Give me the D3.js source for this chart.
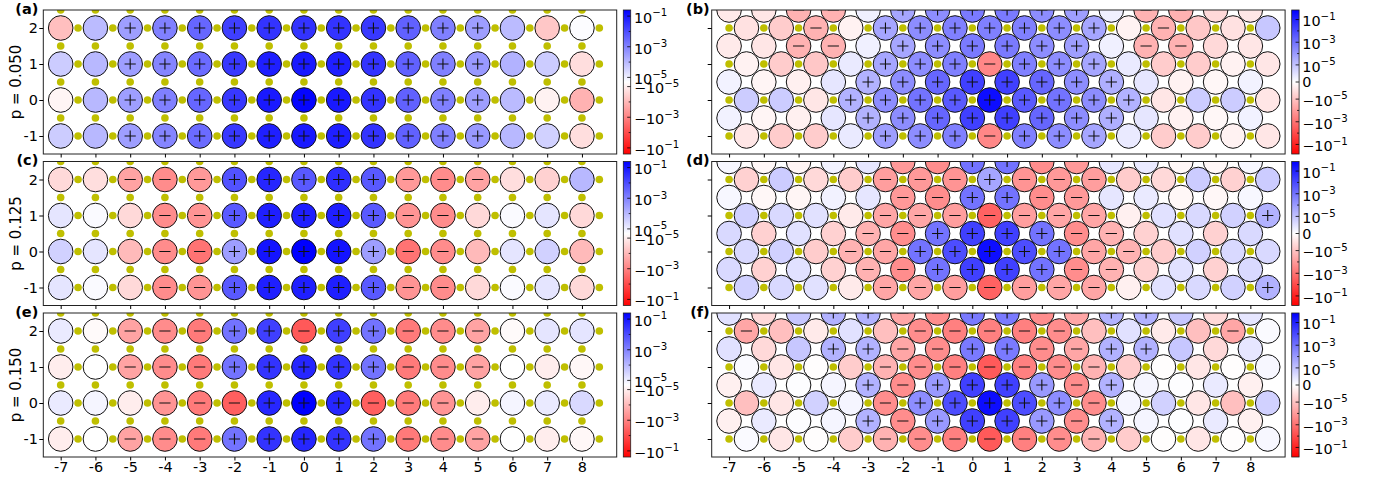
<!DOCTYPE html>
<html lang="en">
<head>
<meta charset="UTF-8">
<title>Lattice sign maps</title>
<script src="https://d3js.org/d3.v7.min.js"></script>
<style>
  body { margin: 0; background: #fff; }
  svg text { font-family: "DejaVu Sans", sans-serif; }
  .axis .tick text { font-family: "DejaVu Sans", sans-serif; font-size: 14.4px; fill: #000; }
  .axis .tick line { stroke: #000; }
  .axis .domain { display: none; }
</style>
</head>
<body>
<svg width="1379" height="480"></svg>
<script>
const xTicks = d3.range(-7, 9);          // -7 ... 8
const yTicks = [2, 1, 0, -1];
const pLabels = ["p = 0.050", "p = 0.125", "p = 0.150"];
const leftNames = ["(a)", "(c)", "(e)"];
const rightNames = ["(b)", "(d)", "(f)"];

// square lattice: rows y = 2, 1, 0, -1 ; columns x = -7 ... 8
const sqA = [
  [-7.5e-5, 9e-5, 3.1e-4, 1.1e-3, 3.3e-3, 1.7e-2, 2.9e-2, 2.9e-2, 2.9e-2, 2.3e-2, 4.1e-3, 1.1e-3, 3.1e-4, 9e-5, -5.4e-5, 2e-6],
  [4.4e-5, 1.0e-4, 3.1e-4, 9e-4, 2.7e-3, 2.3e-2, 6.8e-2, 8.5e-2, 6.8e-2, 2.9e-2, 4.1e-3, 1.1e-3, 3.8e-4, 1.3e-4, 4.4e-5, -2e-5],
  [-6e-6, 1.0e-4, 3.1e-4, 1.1e-3, 3.3e-3, 2.3e-2, 8.5e-2, 0.2, 8.5e-2, 2.9e-2, 4.1e-3, 1.1e-3, 3.1e-4, 9e-5, -8e-6, -1.3e-4],
  [4.4e-5, 1.0e-4, 3.1e-4, 9e-4, 2.7e-3, 2.3e-2, 6.8e-2, 8.5e-2, 6.8e-2, 2.9e-2, 4.1e-3, 1.1e-3, 3.8e-4, 1.0e-4, 3.5e-5, -2e-5]
];
const sqC = [
  [-2.5e-5, -2e-5, -2.5e-4, -6.5e-4, -3.8e-4, 7.8e-3, 5e-2, 5.7e-3, 3.6e-2, 5.7e-3, -3.8e-4, -6.5e-4, -2.5e-4, -2e-5, -3.5e-5, 1.0e-4],
  [1.5e-5, 3e-6, -2.5e-5, -6.5e-4, -4.7e-4, 5.7e-3, 6.8e-2, 6.8e-2, 6.8e-2, 5.7e-3, -4.7e-4, -6.5e-4, -2.5e-5, 3e-6, 1.5e-5, -2.5e-5],
  [3.5e-5, 1.5e-5, -9.3e-5, -6.5e-4, -1.9e-3, 3.1e-4, 0.106, 0.25, 0.106, 3.1e-4, -1.9e-3, -6.5e-4, -9.3e-5, 1.5e-5, 3.5e-5, -9.3e-5],
  [1.5e-5, 3e-6, -2.5e-5, -6.5e-4, -4.7e-4, 5.7e-3, 6.8e-2, 6.8e-2, 6.8e-2, 5.7e-3, -4.7e-4, -6.5e-4, -2.5e-5, 3e-6, 1.5e-5, -2.5e-5]
];
const sqE = [
  [1.2e-5, -3e-6, -2.5e-4, -6.5e-4, -1.4e-3, 1.9e-3, 1.7e-2, -5.7e-3, 1.7e-2, 1.9e-3, -1.4e-3, -6.5e-4, -2.5e-4, -3e-6, 1.5e-5, 1.5e-5],
  [-1.07e-5, 0, -2.5e-4, -6.5e-4, -1.4e-3, 1.9e-3, 2.9e-2, 5e-2, 2.9e-2, 1.9e-3, -1.4e-3, -6.5e-4, -2.5e-4, 0, -1.07e-5, -4.7e-6],
  [1.2e-5, 6.3e-6, -1.07e-5, -4.7e-4, -1.4e-3, -4.5e-3, 5e-2, 0.25, 5e-2, -4.5e-3, -1.4e-3, -4.7e-4, -1.07e-5, 6.3e-6, 1.2e-5, 2.5e-5],
  [-1.07e-5, 0, -2.5e-4, -6.5e-4, -1.4e-3, 1.9e-3, 2.9e-2, 5e-2, 2.9e-2, 1.9e-3, -1.4e-3, -6.5e-4, -2.5e-4, 0, -1.07e-5, -4.7e-6]
];

// triangular lattice rows, top to bottom (top row is the periodic image of y = -1.5)
// half-integer rows hold sites at x = -7 ... 8, integer rows at x = -6.5 ... 8.5
const triRowY = [2.5, 2, 1.5, 1, 0.5, 0, -0.5, -1];
const triB = [
  [-3.4e-6, -4.2e-6, -2.5e-5, -2.5e-5, 2.5e-6, 5.2e-5, 2.2e-4, 6.5e-4, 6.5e-4, 2.2e-4, 8e-5, 2.5e-6, -2.5e-5, -2.5e-5, -6.3e-6, -4.2e-6],
  [-5e-6, -8.4e-6, -2.5e-5, -2.1e-6, 5.2e-5, 2.2e-4, 4.6e-4, 4.6e-4, 4.6e-4, 2.2e-4, 5.2e-5, -2.1e-6, -2.5e-5, -9.3e-6, -5e-6, 9.3e-6],
  [-3.4e-6, -4.2e-6, -2.5e-5, -2.5e-5, 2.5e-6, 5.2e-5, 2.2e-4, 6.5e-4, 6.5e-4, 2.2e-4, 8e-5, 2.5e-6, -2.5e-5, -2.5e-5, -6.3e-6, -4.2e-6],
  [-2.1e-6, -8.4e-6, -9.3e-6, 3.4e-6, 5.2e-5, 2.2e-4, 4.6e-4, -3e-4, 4.6e-4, 2.2e-4, 5.2e-5, 3.4e-6, -8.4e-6, -8.4e-6, -2.1e-6, -4.2e-6],
  [2.1e-6, -1.7e-6, -2.5e-6, 4.2e-6, 2.5e-5, 2.2e-4, 2e-3, 1.8e-2, 1.8e-2, 2e-3, 2.2e-4, 3e-5, 4.2e-6, -2.1e-6, -1.3e-6, 2.1e-6],
  [8.4e-6, 8.4e-6, -4.2e-6, 2.5e-5, 2.2e-4, 9.6e-4, 4.1e-3, 0.33, 4.1e-3, 9.6e-4, 2.2e-4, 2.5e-5, -4.2e-6, 8.4e-6, 8.4e-6, -4.2e-6],
  [2.1e-6, -1.7e-6, -2.5e-6, 4.2e-6, 2.5e-5, 2.2e-4, 2e-3, 1.8e-2, 1.8e-2, 2e-3, 2.2e-4, 3e-5, 4.2e-6, -2.1e-6, -1.3e-6, 2.1e-6],
  [-4.2e-6, -8.4e-6, -8.4e-6, 3.4e-6, 8e-5, 2.2e-4, 4.6e-4, -3e-4, 4.6e-4, 2.2e-4, 5.2e-5, 3.4e-6, -8.4e-6, -8.4e-6, -2.1e-6, -4.2e-6]
];
const triD = [
  [1.3e-6, -1.3e-6, -1.7e-6, 2.1e-6, 4.2e-6, -1.07e-4, -2.2e-4, 9.6e-4, 9.6e-4, -2.2e-4, -1.07e-4, 4.2e-6, 3.4e-6, -1.3e-6, -1.3e-6, 1.3e-6],
  [-7.6e-6, 8.4e-6, -6.3e-6, -8.4e-6, -8e-5, -1.07e-4, -1.4e-4, 5.2e-5, -1.4e-4, -1.07e-4, -8e-5, -8.4e-6, -6.3e-6, 8.4e-6, -7.6e-6, 8.4e-6],
  [1.3e-6, -1.3e-6, -1.7e-6, 2.1e-6, 4.2e-6, -1.07e-4, -2.2e-4, 9.6e-4, 9.6e-4, -2.2e-4, -1.07e-4, 4.2e-6, 3.4e-6, -1.3e-6, -1.3e-6, 1.3e-6],
  [7.6e-6, 6.3e-6, 5e-6, -3.4e-6, -5.2e-5, -5.2e-5, -8e-5, -2.5e-3, -8e-5, -5.2e-5, -5.2e-5, -2.5e-6, 5e-6, 6.3e-6, 7.6e-6, 2.5e-5],
  [6.3e-6, -7.6e-6, 5e-6, -7.6e-6, -2.5e-5, -2.2e-4, 9.6e-4, 1.8e-2, 1.8e-2, 9.6e-4, -2.2e-4, -2.5e-5, -7.6e-6, 5e-6, -7.6e-6, 6.3e-6],
  [6.3e-6, 7.6e-6, -8.4e-6, -2.5e-5, -5.2e-5, 9.6e-4, 8.6e-3, 0.33, 8.6e-3, 9.6e-4, -5.2e-5, -2.5e-5, -8.4e-6, 7.6e-6, 6.3e-6, 6.3e-6],
  [6.3e-6, -7.6e-6, 5e-6, -7.6e-6, -2.5e-5, -2.2e-4, 9.6e-4, 1.8e-2, 1.8e-2, 9.6e-4, -2.2e-4, -2.5e-5, -7.6e-6, 5e-6, -7.6e-6, 6.3e-6],
  [7.6e-6, 6.3e-6, 5e-6, -3.4e-6, -5.2e-5, -5.2e-5, -8e-5, -2.5e-3, -8e-5, -5.2e-5, -5.2e-5, -2.5e-6, 5e-6, 6.3e-6, 7.6e-6, 2.5e-5]
];
const triF = [
  [5e-6, -6.3e-6, 9.3e-6, 2.5e-5, 2.5e-5, -5.2e-5, -2.2e-4, 6.5e-4, 6.5e-4, -2.2e-4, -5.2e-5, 2.5e-5, 2.5e-5, 9.3e-6, -6.3e-6, 4.2e-6],
  [-5.2e-5, -1.2e-5, -3.4e-6, 5e-6, -1.2e-5, -2.2e-4, -4.6e-4, -4.6e-4, -4.6e-4, -2.2e-4, -1.2e-5, 5e-6, -3.4e-6, -1.2e-5, -5.2e-5, 8e-7],
  [5e-6, -6.3e-6, 9.3e-6, 2.5e-5, 2.5e-5, -5.2e-5, -2.2e-4, 6.5e-4, 6.5e-4, -2.2e-4, -5.2e-5, 2.5e-5, 2.5e-5, 9.3e-6, -6.3e-6, 4.2e-6],
  [8e-7, -4.2e-6, -4e-7, -8.4e-6, -2.5e-5, -2.2e-4, -4.6e-4, -4.1e-3, -4.6e-4, -2.2e-4, -2.5e-5, -8.4e-6, -4e-7, -4.2e-6, -4e-7, 1.3e-6],
  [-2.5e-6, 3.4e-6, 4e-7, 1.7e-6, 2.5e-5, -2.2e-4, 1.07e-4, 1.8e-2, 1.8e-2, 1.07e-4, -2.2e-4, 2.5e-5, 1.7e-6, 4e-7, 3.4e-6, -2.5e-6],
  [-1.2e-5, -4.2e-6, 7.6e-6, 1.7e-6, -2.2e-4, 2.2e-4, 8.6e-3, 0.33, 8.6e-3, 2.2e-4, -2.2e-4, 1.7e-6, 7.6e-6, -4.2e-6, -1.2e-5, 7.6e-6],
  [-2.5e-6, 3.4e-6, 4e-7, 1.7e-6, 2.5e-5, -2.2e-4, 1.07e-4, 1.8e-2, 1.8e-2, 1.07e-4, -2.2e-4, 2.5e-5, 1.7e-6, 4e-7, 3.4e-6, -2.5e-6],
  [8e-7, -4.2e-6, -4e-7, -8.4e-6, -2.5e-5, -2.2e-4, -4.6e-4, -4.1e-3, -4.6e-4, -2.2e-4, -2.5e-5, -8.4e-6, -4e-7, -4.2e-6, -4e-7, 1.3e-6]
];

const cbTicksLeft = [1e-1, 1e-3, 1e-5, -1e-5, -1e-3, -1e-1];
const cbTicksRight = [1e-1, 1e-3, 1e-5, 0, -1e-5, -1e-3, -1e-1];
const cbMinor = [1e-2, 1e-4, -1e-4, -1e-2];

// layout
const svg = d3.select("svg");
const W = 573.4, H = 144;
const colX = [43.3, 711.7];
const rowTop = [10, 161.5, 313];
const cbGap = 6.6, cbW = 7.4;
const R = 12.3, dotR = 3.8;

const x = d3.scaleLinear().domain([-7.5, 9]).range([0, W]);
const y = d3.scaleLinear().domain([-1.5, 2.5]).range([H, 0]);

// matplotlib-like symmetric log transform
function symlog(linthresh, linscale) {
  return v => {
    const a = Math.abs(v);
    const s = a <= linthresh ? linscale * a / linthresh : linscale + Math.log10(a / linthresh);
    return Math.sign(v) * s;
  };
}
function makeNorm(linthresh, linscale, vmax, cut, id) {
  const f = symlog(linthresh, linscale);
  const F = f(vmax);
  return {
    f, F, cut, id,
    color: d3.scaleLinear().domain([-F, 0, F]).range(["#ff0000", "#ffffff", "#0000ff"]).clamp(true),
    pos: d3.scaleLinear().domain([-F, F]).range([H, 0])
  };
}
const normL = makeNorm(1e-5, 0.3, 0.25, 2e-4, "gradL");
const normR = makeNorm(1e-5, 1.51, 0.7, 2e-5, "gradR");

const defs = svg.append("defs");
[normL, normR].forEach(n => {
  const grad = defs.append("linearGradient").attr("id", n.id)
    .attr("x1", 0).attr("y1", 0).attr("x2", 0).attr("y2", 1);
  d3.range(0, 1.0001, 0.05).forEach(o => {
    grad.append("stop").attr("offset", o).attr("stop-color", n.color(n.F - 2 * n.F * o));
  });
});

function squareSites(data) {
  return data.flatMap((row, i) => row.map((v, j) => ({x: xTicks[j], y: yTicks[i], v})));
}
function squareBonds() {
  const h = yTicks.flatMap(yy => xTicks.map(xx => ({x: xx + 0.5, y: yy})));
  const v = yTicks.flatMap(yy => xTicks.map(xx => ({x: xx, y: yy + 0.5})));
  return h.concat(v);
}
function triSites(data) {
  return data.flatMap((row, i) => {
    const yy = triRowY[i];
    const xs = Number.isInteger(yy) ? xTicks.map(v => v + 0.5) : xTicks;
    return row.map((v, j) => ({x: xs[j], y: yy, v}));
  });
}
function triBonds() {
  return yTicks.flatMap(yy => xTicks.map(xx => ({x: xx, y: yy})));
}

function powLabel(sel, v) {
  if (v === 0) { sel.text("0"); return; }
  const e = Math.round(Math.log10(Math.abs(v)));
  sel.append("tspan").text((v < 0 ? "\u2212" : "") + "10");
  sel.append("tspan").attr("font-size", 10.2).attr("dy", -6.5)
    .text((e < 0 ? "\u2212" : "") + Math.abs(e));
}

function drawPanel(opts) {
  const {left, top, sites, bonds, norm, name, ylabel, showX, showY, clipId, cbTicks} = opts;
  const g = svg.append("g").attr("transform", `translate(${left},${top})`);

  g.append("clipPath").attr("id", clipId)
    .append("rect").attr("width", W).attr("height", H);
  const body = g.append("g").attr("clip-path", `url(#${clipId})`);

  body.selectAll("circle.site").data(sites).enter().append("circle")
    .attr("class", "site")
    .attr("cx", d => x(d.x)).attr("cy", d => y(d.y)).attr("r", R)
    .attr("fill", d => norm.color(norm.f(d.v)))
    .attr("stroke", "#111").attr("stroke-width", 1);

  const marked = sites.filter(d => Math.abs(d.v) >= norm.cut);
  body.selectAll("path.mark").data(marked).enter().append("path")
    .attr("class", "mark")
    .attr("transform", d => `translate(${x(d.x)},${y(d.y)})`)
    .attr("d", d => d.v > 0 ? "M-5.6,0H5.6M0,-5.6V5.6" : "M-5.6,0H5.6")
    .attr("stroke", "#111").attr("stroke-width", 1.1).attr("fill", "none");

  body.selectAll("circle.bond").data(bonds).enter().append("circle")
    .attr("class", "bond")
    .attr("cx", d => x(d.x)).attr("cy", d => y(d.y)).attr("r", dotR)
    .attr("fill", "#bfbf00");

  g.append("rect").attr("width", W).attr("height", H)
    .attr("fill", "none").attr("stroke", "#222").attr("stroke-width", 1);

  g.append("g").attr("class", "axis")
    .call(d3.axisLeft(y).tickValues(yTicks).tickSize(4).tickPadding(1.5)
      .tickFormat(d => showY ? String(d) : ""));
  g.append("g").attr("class", "axis").attr("transform", `translate(0,${H})`)
    .call(d3.axisBottom(x).tickValues(xTicks).tickSize(3.5).tickPadding(1.5)
      .tickFormat(d => showX ? String(d) : ""));

  // panel tag
  svg.append("text")
    .attr("x", left - (showY ? 5 : 2)).attr("y", top + 3.5)
    .attr("text-anchor", "end").attr("font-weight", "bold").attr("font-size", 14.5)
    .text(name);

  if (ylabel) {
    svg.append("text")
      .attr("transform", `translate(21,${top + H / 2}) rotate(-90)`)
      .attr("text-anchor", "middle").attr("font-size", 15)
      .text(ylabel);
  }

  // colorbar
  const cb = svg.append("g").attr("transform", `translate(${left + W + cbGap},${top})`);
  cb.append("rect").attr("width", cbW).attr("height", H).attr("fill", `url(#${norm.id})`);
  cb.selectAll("line.minor").data(cbMinor).enter().append("line")
    .attr("class", "minor")
    .attr("x1", cbW - 2).attr("x2", cbW)
    .attr("y1", d => norm.pos(norm.f(d))).attr("y2", d => norm.pos(norm.f(d)))
    .attr("stroke", "#000").attr("stroke-width", 0.8);
  cb.selectAll("line.major").data(cbTicks).enter().append("line")
    .attr("class", "major")
    .attr("x1", cbW - 3.5).attr("x2", cbW)
    .attr("y1", d => norm.pos(norm.f(d))).attr("y2", d => norm.pos(norm.f(d)))
    .attr("stroke", "#000").attr("stroke-width", 0.8);
  cb.append("rect").attr("width", cbW).attr("height", H)
    .attr("fill", "none").attr("stroke", "#222").attr("stroke-width", 0.8);
  cb.selectAll("text.cbl").data(cbTicks).enter().append("text")
    .attr("class", "cbl")
    .attr("x", cbW + 3.2)
    .attr("y", d => norm.pos(norm.f(d)) + (d === 0 ? 5 : 6.8))
    .attr("font-size", 14.4)
    .each(function (d) { powLabel(d3.select(this), d); });
}

const sqData = [sqA, sqC, sqE];
const triData = [triB, triD, triF];
rowTop.forEach((top, i) => {
  drawPanel({
    left: colX[0], top, sites: squareSites(sqData[i]), bonds: squareBonds(), norm: normL,
    name: leftNames[i], ylabel: pLabels[i], showX: i === 2, showY: true,
    clipId: "clipL" + i, cbTicks: cbTicksLeft
  });
  drawPanel({
    left: colX[1], top, sites: triSites(triData[i]), bonds: triBonds(), norm: normR,
    name: rightNames[i], ylabel: null, showX: i === 2, showY: false,
    clipId: "clipR" + i, cbTicks: cbTicksRight
  });
});
</script>
</body>
</html>
